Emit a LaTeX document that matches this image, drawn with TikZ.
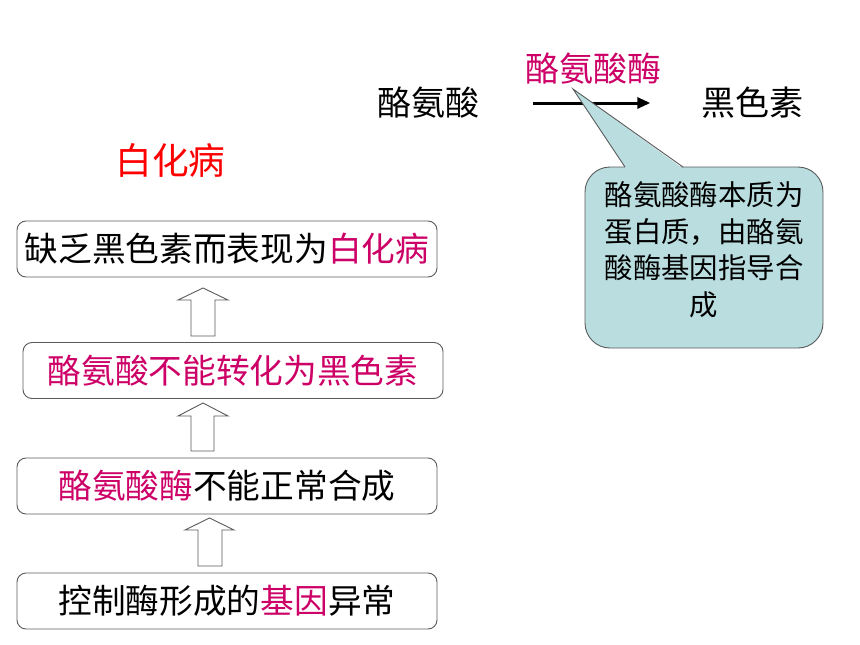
\documentclass[tikz,border=0pt]{standalone}
\usepackage{fontspec}
\setmainfont{Noto Sans CJK SC}
\usetikzlibrary{arrows.meta}
\definecolor{mag}{RGB}{204,0,102}
\definecolor{callfill}{RGB}{186,222,224}
\definecolor{edge}{RGB}{90,90,90}
\tikzset{
  box/.style={draw=edge, line width=0.9pt, rounded corners=9pt, minimum height=56pt, inner sep=0pt, font=\fontsize{33.7pt}{36pt}\selectfont},
  hollow/.style={draw=edge, line width=0.9pt, fill=white},
  lbl/.style={inner sep=0pt, font=\fontsize{34pt}{36pt}\selectfont},
}
\begin{document}
\begin{tikzpicture}[x=1pt,y=-1pt]
\useasboundingbox (0,0) rectangle (860,645);
% boxes
\node[box, minimum width=420pt] (b1) at (227,249) {缺乏黑色素而表现为\textcolor{mag}{白化病}};
\node[box, minimum width=420pt] (b2) at (233,370.5) {\textcolor{mag}{酪氨酸不能转化为黑色素}};
\node[box, minimum width=420pt] (b3) at (227,486) {\textcolor{mag}{酪氨酸酶}不能正常合成};
\node[box, minimum width=420pt] (b4) at (227,601) {控制酶形成的\textcolor{mag}{基因}异常};
% hollow arrows
\draw[hollow] (191,336) -- (191,300) -- (178,300) -- (203,288) -- (228,300) -- (215,300) -- (215,336) -- cycle;
\draw[hollow] (191,451) -- (191,416) -- (178,416) -- (203,403) -- (228,416) -- (214,416) -- (214,451) -- cycle;
\draw[hollow] (198,566) -- (198,530) -- (185,530) -- (209.5,518) -- (234,530) -- (222,530) -- (222,566) -- cycle;
% title
\node[inner sep=0pt, text=red, font=\fontsize{36.7pt}{38pt}\selectfont] (title) at (170.5,160) {白化病};
% top reaction
\node[lbl] (tyr) at (428.5,103) {酪氨酸};
\node[lbl] (mel) at (752.5,103) {黑色素};
\node[lbl, text=mag] (enz) at (593.5,69) {酪氨酸酶};
\draw[line width=3pt, -{Triangle[length=13pt,width=11pt]}, shorten <=53pt, shorten >=51pt] (tyr.east) -- (mel.west);
% callout
\node[draw=edge, line width=0.9pt, fill=callfill, rounded corners=25pt, minimum width=238pt, minimum height=181pt, inner sep=0pt] (call) at (704,257.5) {};
\fill[callfill] (625.5,168.2) -- (573,89) -- (682.5,168.2) -- cycle;
\draw[edge, line width=0.9pt] (625,167) -- (573,89) -- (683,167);
\node[inner sep=0pt, align=center, font=\fontsize{28.4pt}{36.5pt}\selectfont] (calltext) at (704,250) {酪氨酸酶本质为\\蛋白质，由酪氨\\酸酶基因指导合\\成};
\end{tikzpicture}
\end{document}
